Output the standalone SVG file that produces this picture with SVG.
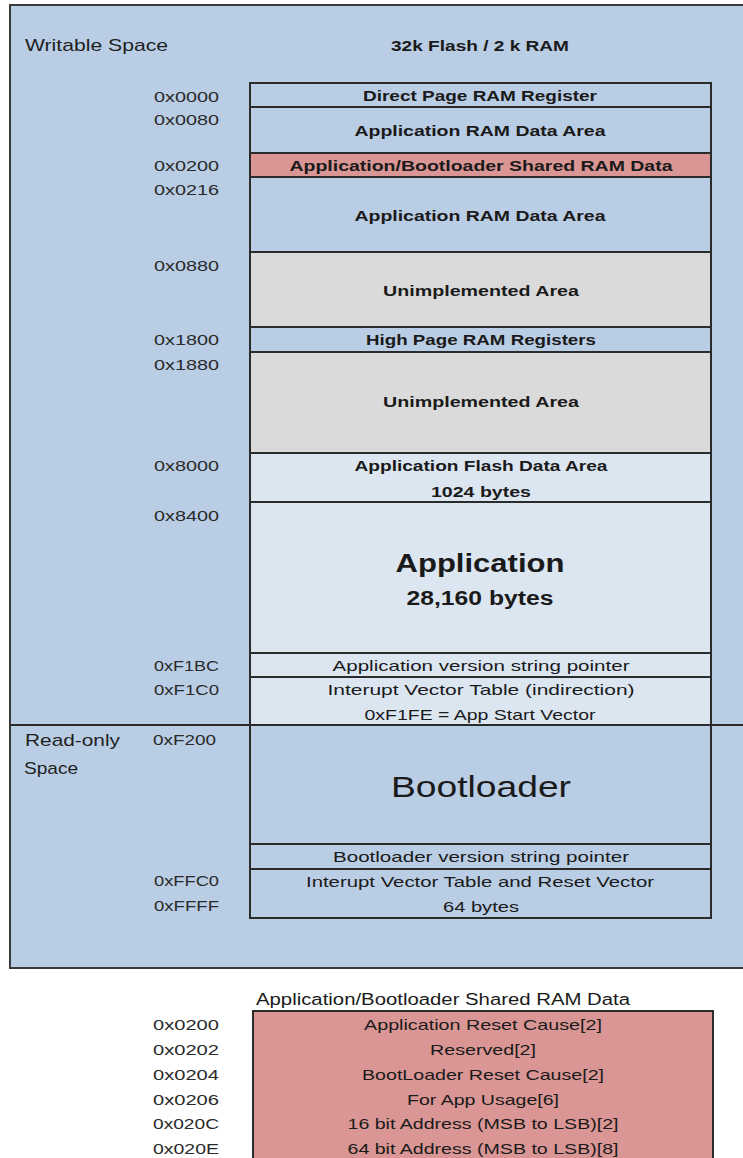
<svg xmlns="http://www.w3.org/2000/svg" width="743" height="1158" viewBox="0 0 743 1158">
<style>
  .bg { fill: #B9CDE4; stroke: #3a3a3a; stroke-width: 2; }
  .cell { stroke: #2b2b2b; stroke-width: 2; }
  .blue { fill: #B9CDE4; }
  .light { fill: #DCE6F1; }
  .grey { fill: #DADADA; }
  .pink { fill: #DA9694; }
  text { font-family: "Liberation Sans", Arial, sans-serif; fill: #1a1a1a; }
  .t { font-size: 15px; text-anchor: middle; }
  .b { font-weight: bold; }
  .addr { font-size: 15px; text-anchor: end; fill: #2a2a2a; }
  .lbl { font-size: 17px; fill: #1f1f1f; }
</style>
<rect x="0" y="0" width="743" height="1158" fill="#ffffff"/>
<g id="memory-map-frame">
  <rect class="bg" x="10" y="5" width="745" height="963"/>
  <text class="lbl" x="25" y="51" textLength="143" lengthAdjust="spacingAndGlyphs">Writable Space</text>
  <text class="t b" x="480" y="51" textLength="178" lengthAdjust="spacingAndGlyphs">32k Flash / 2 k RAM</text>
  <text class="lbl" x="25" y="746" textLength="95" lengthAdjust="spacingAndGlyphs">Read-only</text>
  <text class="lbl" x="24" y="774" textLength="54" lengthAdjust="spacingAndGlyphs">Space</text>
</g>
<g id="addresses">
  <text class="addr" x="219" y="102" textLength="65" lengthAdjust="spacingAndGlyphs">0x0000</text>
  <text class="addr" x="219" y="125" textLength="65" lengthAdjust="spacingAndGlyphs">0x0080</text>
  <text class="addr" x="219" y="171" textLength="65" lengthAdjust="spacingAndGlyphs">0x0200</text>
  <text class="addr" x="219" y="195" textLength="65" lengthAdjust="spacingAndGlyphs">0x0216</text>
  <text class="addr" x="219" y="271" textLength="65" lengthAdjust="spacingAndGlyphs">0x0880</text>
  <text class="addr" x="219" y="345" textLength="65" lengthAdjust="spacingAndGlyphs">0x1800</text>
  <text class="addr" x="219" y="370" textLength="65" lengthAdjust="spacingAndGlyphs">0x1880</text>
  <text class="addr" x="219" y="471" textLength="65" lengthAdjust="spacingAndGlyphs">0x8000</text>
  <text class="addr" x="219" y="521" textLength="65" lengthAdjust="spacingAndGlyphs">0x8400</text>
  <text class="addr" x="219" y="671" textLength="65" lengthAdjust="spacingAndGlyphs">0xF1BC</text>
  <text class="addr" x="219" y="695" textLength="65" lengthAdjust="spacingAndGlyphs">0xF1C0</text>
  <text class="addr" x="216" y="745" textLength="63" lengthAdjust="spacingAndGlyphs">0xF200</text>
  <text class="addr" x="219" y="886" textLength="65" lengthAdjust="spacingAndGlyphs">0xFFC0</text>
  <text class="addr" x="219" y="911" textLength="65" lengthAdjust="spacingAndGlyphs">0xFFFF</text>
</g>
<g id="direct-page">
  <rect class="cell blue" x="250" y="83" width="461" height="24"/>
  <text class="t b" x="480" y="101" textLength="234" lengthAdjust="spacingAndGlyphs">Direct Page RAM Register</text>
</g>
<g id="app-ram-1">
  <rect class="cell blue" x="250" y="107" width="461" height="46"/>
  <text class="t b" x="480" y="136" textLength="251" lengthAdjust="spacingAndGlyphs">Application RAM Data Area</text>
</g>
<g id="shared-ram">
  <rect class="cell pink" x="250" y="153" width="461" height="24"/>
  <text class="t b" x="481" y="171" textLength="383" lengthAdjust="spacingAndGlyphs">Application/Bootloader Shared RAM Data</text>
</g>
<g id="app-ram-2">
  <rect class="cell blue" x="250" y="177" width="461" height="75"/>
  <text class="t b" x="480" y="221" textLength="251" lengthAdjust="spacingAndGlyphs">Application RAM Data Area</text>
</g>
<g id="unimpl-1">
  <rect class="cell grey" x="250" y="252" width="461" height="75"/>
  <text class="t b" x="481" y="296" textLength="196" lengthAdjust="spacingAndGlyphs">Unimplemented Area</text>
</g>
<g id="high-page">
  <rect class="cell blue" x="250" y="327" width="461" height="25"/>
  <text class="t b" x="481" y="345" textLength="230" lengthAdjust="spacingAndGlyphs">High Page RAM Registers</text>
</g>
<g id="unimpl-2">
  <rect class="cell grey" x="250" y="352" width="461" height="101"/>
  <text class="t b" x="481" y="407" textLength="196" lengthAdjust="spacingAndGlyphs">Unimplemented Area</text>
</g>
<g id="flash-data">
  <rect class="cell light" x="250" y="453" width="461" height="49"/>
  <text class="t b" x="481" y="471" textLength="253" lengthAdjust="spacingAndGlyphs">Application Flash Data Area</text>
  <text class="t b" x="481" y="497" textLength="100" lengthAdjust="spacingAndGlyphs">1024 bytes</text>
</g>
<g id="application">
  <rect class="cell light" x="250" y="502" width="461" height="151"/>
  <text class="b" x="480" y="572" font-size="26" text-anchor="middle" textLength="169" lengthAdjust="spacingAndGlyphs">Application</text>
  <text class="b" x="480" y="605" font-size="20" text-anchor="middle" textLength="147" lengthAdjust="spacingAndGlyphs">28,160 bytes</text>
</g>
<g id="app-version">
  <rect class="cell light" x="250" y="653" width="461" height="24"/>
  <text class="t" x="481" y="671" textLength="297" lengthAdjust="spacingAndGlyphs">Application version string pointer</text>
</g>
<g id="app-ivt">
  <rect class="cell light" x="250" y="677" width="461" height="48"/>
  <text class="t" x="481" y="695" textLength="307" lengthAdjust="spacingAndGlyphs">Interupt Vector Table (indirection)</text>
  <text class="t" x="480" y="720" textLength="231" lengthAdjust="spacingAndGlyphs">0xF1FE = App Start Vector</text>
</g>
<g id="bootloader">
  <rect class="cell blue" x="250" y="725" width="461" height="119"/>
  <text x="481" y="797" font-size="30" text-anchor="middle" textLength="180" lengthAdjust="spacingAndGlyphs">Bootloader</text>
</g>
<g id="bl-version">
  <rect class="cell blue" x="250" y="844" width="461" height="25"/>
  <text class="t" x="481" y="862" textLength="296" lengthAdjust="spacingAndGlyphs">Bootloader version string pointer</text>
</g>
<g id="bl-ivt">
  <rect class="cell blue" x="250" y="869" width="461" height="49"/>
  <text class="t" x="480" y="887" textLength="348" lengthAdjust="spacingAndGlyphs">Interupt Vector Table and Reset Vector</text>
  <text class="t" x="481" y="912" textLength="76" lengthAdjust="spacingAndGlyphs">64 bytes</text>
</g>
<g id="separator">
  <line x1="10" y1="725" x2="743" y2="725" stroke="#2b2b2b" stroke-width="2"/>
</g>
<g id="shared-ram-detail">
  <text x="256" y="1005" font-size="16" textLength="374" lengthAdjust="spacingAndGlyphs">Application/Bootloader Shared RAM Data</text>
  <rect x="253" y="1011" width="460" height="160" fill="#D99694" stroke="#2b2b2b" stroke-width="2"/>
  <text class="addr" x="219" y="1030" textLength="66" lengthAdjust="spacingAndGlyphs">0x0200</text>
  <text class="addr" x="219" y="1055" textLength="66" lengthAdjust="spacingAndGlyphs">0x0202</text>
  <text class="addr" x="219" y="1080" textLength="66" lengthAdjust="spacingAndGlyphs">0x0204</text>
  <text class="addr" x="219" y="1105" textLength="66" lengthAdjust="spacingAndGlyphs">0x0206</text>
  <text class="addr" x="219" y="1129" textLength="66" lengthAdjust="spacingAndGlyphs">0x020C</text>
  <text class="addr" x="219" y="1154" textLength="66" lengthAdjust="spacingAndGlyphs">0x020E</text>
  <text class="t" x="483" y="1030" textLength="238" lengthAdjust="spacingAndGlyphs">Application Reset Cause[2]</text>
  <text class="t" x="483" y="1055" textLength="106" lengthAdjust="spacingAndGlyphs">Reserved[2]</text>
  <text class="t" x="483" y="1080" textLength="242" lengthAdjust="spacingAndGlyphs">BootLoader Reset Cause[2]</text>
  <text class="t" x="483" y="1105" textLength="152" lengthAdjust="spacingAndGlyphs">For App Usage[6]</text>
  <text class="t" x="483" y="1129" textLength="271" lengthAdjust="spacingAndGlyphs">16 bit Address (MSB to LSB)[2]</text>
  <text class="t" x="483" y="1154" textLength="271" lengthAdjust="spacingAndGlyphs">64 bit Address (MSB to LSB)[8]</text>
</g>
</svg>
